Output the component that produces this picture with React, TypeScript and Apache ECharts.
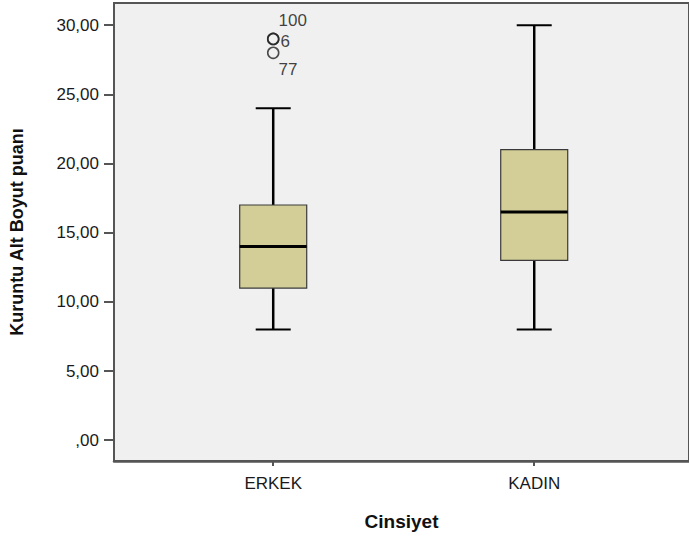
import React, { useEffect, useRef } from "react";
import * as echarts from "echarts";

const categories = ["ERKEK", "KADIN"];
const whiskerLow = [8, 8];
const q1 = [11, 13];
const median = [14, 16.5];
const q3 = [17, 21];
const whiskerHigh = [24, 30];

const outlierCategory = [0, 0, 0];
const outlierValues = [29, 29, 28];
const outlierLabels = ["6", "100", "77"];

const yTicks = [0, 5, 10, 15, 20, 25, 30];
const yTickLabels = [",00", "5,00", "10,00", "15,00", "20,00", "25,00", "30,00"];

const FONT = "'Liberation Sans', Arial, sans-serif";

export default function App() {
  const ref = useRef<HTMLDivElement>(null);

  useEffect(() => {
    if (!ref.current) return;
    const chart = echarts.init(ref.current, null, { renderer: "svg" });

    const boxData = categories.map((_, i) => [
      i,
      whiskerLow[i],
      q1[i],
      median[i],
      q3[i],
      whiskerHigh[i],
    ]);

    const labelOffsets = [
      [1, 3],
      [-1, -18],
      [-1, 17],
    ];

    const outlierData = outlierValues.map((v, i) => ({
      value: [outlierCategory[i], v],
      label: {
        show: true,
        formatter: outlierLabels[i],
        position: "right",
        distance: 0,
        offset: labelOffsets[i],
        color: "#111",
        fontSize: 17,
        fontFamily: FONT,
      },
    }));

    const option: any = {
      animation: false,
      backgroundColor: "#ffffff",
      grid: {
        left: 107,
        top: 3,
        right: -3,
        bottom: 73,
        show: true,
        backgroundColor: "#f0f0f0",
        borderColor: "#555555",
        borderWidth: 2,
      },
      xAxis: {
        type: "value",
        min: -0.61,
        max: 1.593,
        splitLine: { show: false },
        axisLine: { show: true, onZero: false, lineStyle: { color: "#555555", width: 2.5 } },
        axisTick: {
          show: true,
          customValues: [0, 1],
          length: 5,
          lineStyle: { color: "#555555", width: 2 },
        },
        axisLabel: {
          customValues: [0, 1],
          formatter: (v: number) => categories[Math.round(v)] ?? "",
          fontSize: 17,
          fontFamily: FONT,
          color: "#1a1a1a",
          margin: 14,
        },
        name: "Cinsiyet",
        nameLocation: "middle",
        nameGap: 51,
        nameTextStyle: {
          fontSize: 19,
          fontWeight: "bold",
          fontFamily: FONT,
          color: "#111",
        },
      },
      yAxis: {
        type: "value",
        min: -1.5,
        max: 31.6,
        splitLine: { show: false },
        axisLine: { show: true, onZero: false, lineStyle: { color: "#555555", width: 2 } },
        axisTick: {
          show: true,
          customValues: yTicks,
          length: 10,
          lineStyle: { color: "#555555", width: 2 },
        },
        axisLabel: {
          customValues: yTicks,
          formatter: (v: number) => {
            const idx = yTicks.indexOf(Math.round(v));
            return idx >= 0 ? yTickLabels[idx] : "";
          },
          fontSize: 17,
          fontFamily: FONT,
          color: "#1a1a1a",
          margin: 15,
        },
        name: "Kuruntu Alt Boyut puanı",
        nameLocation: "middle",
        nameGap: 88,
        nameTextStyle: {
          fontSize: 18,
          fontWeight: "bold",
          fontFamily: FONT,
          color: "#111",
        },
      },
      series: [
        {
          type: "custom",
          data: boxData,
          clip: false,
          renderItem: (params: any, api: any) => {
            const c = api.value(0);
            const lo = api.coord([c, api.value(1)]);
            const p1 = api.coord([c, api.value(2)]);
            const pm = api.coord([c, api.value(3)]);
            const p3 = api.coord([c, api.value(4)]);
            const hi = api.coord([c, api.value(5)]);
            const cx = lo[0];
            const bw = 67;
            const cw = 35;
            const line = (x1: number, y1: number, x2: number, y2: number, w: number) => ({
              type: "line",
              shape: { x1, y1, x2, y2 },
              style: { stroke: "#000", lineWidth: w },
            });
            return {
              type: "group",
              children: [
                line(cx, p1[1], cx, lo[1], 2.5),
                line(cx - cw / 2, lo[1], cx + cw / 2, lo[1], 2),
                line(cx, p3[1], cx, hi[1], 2.5),
                line(cx - cw / 2, hi[1], cx + cw / 2, hi[1], 2),
                {
                  type: "rect",
                  shape: { x: cx - bw / 2, y: p3[1], width: bw, height: p1[1] - p3[1] },
                  style: { fill: "#d3ce97", stroke: "#3a3a3a", lineWidth: 1.2 },
                },
                line(cx - bw / 2, pm[1], cx + bw / 2, pm[1], 3),
              ],
            };
          },
        },
        {
          type: "scatter",
          data: outlierData,
          symbol: "circle",
          symbolSize: 11,
          itemStyle: { color: "transparent", borderColor: "#222", borderWidth: 1.6 },
          z: 5,
        },
      ],
    };

    chart.setOption(option);
    return () => chart.dispose();
  }, []);

  return (
    <div
      ref={ref}
      style={{ position: "fixed", left: 0, top: 0, width: 689, height: 536, background: "#fff" }}
    />
  );
}
